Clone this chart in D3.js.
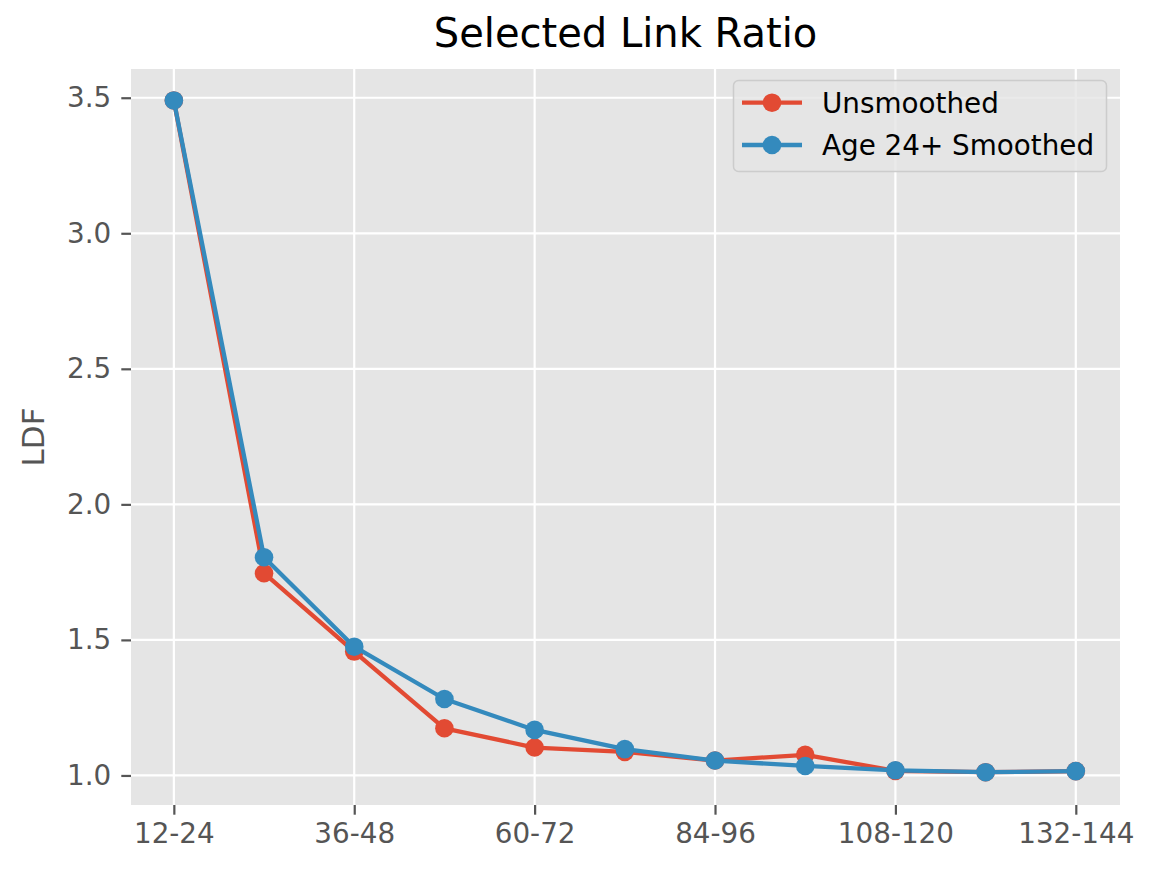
<!DOCTYPE html>
<html>
<head>
<meta charset="utf-8">
<script src="https://cdn.jsdelivr.net/npm/d3@7"></script>
<style>
  html, body { margin: 0; padding: 0; background: #fff; }
  svg { display: block; font-family: "DejaVu Sans", sans-serif; }
</style>
</head>
<body>
<svg id="chart" width="1154" height="873"></svg>
<script>
const categories = ["12-24","24-36","36-48","48-60","60-72","72-84","84-96","96-108","108-120","120-132","132-144"];
const unsmoothed = [3.49, 1.746, 1.457, 1.174, 1.103, 1.087, 1.055, 1.076, 1.017, 1.012, 1.016];
const smoothed   = [3.49, 1.805, 1.475, 1.282, 1.168, 1.097, 1.055, 1.035, 1.019, 1.012, 1.016];
const xTickLabels = ["12-24","36-48","60-72","84-96","108-120","132-144"];
const yTicks = [1.0, 1.5, 2.0, 2.5, 3.0, 3.5];
const seriesNames = ["Unsmoothed", "Age 24+ Smoothed"];
const colors = ["#E24A33", "#348ABD"];

const svg = d3.select("#chart");
const L = 131, R = 1120, T = 69, B = 805;

const x = d3.scaleLinear().domain([-0.475, categories.length - 0.51]).range([L, R]);
const y = d3.scaleLinear().domain([0.891, 3.606]).range([B, T]);

svg.append("rect").attr("x", L).attr("y", T).attr("width", R - L).attr("height", B - T).attr("fill", "#E5E5E5");

const xTickIdx = xTickLabels.map(l => categories.indexOf(l));

// grid
const grid = svg.append("g");
grid.selectAll("line.vx").data(xTickIdx).join("line")
  .attr("x1", d => x(d)).attr("x2", d => x(d)).attr("y1", T).attr("y2", B)
  .attr("stroke", "#fff").attr("stroke-width", 2.2);
grid.selectAll("line.hy").data(yTicks).join("line")
  .attr("x1", L).attr("x2", R).attr("y1", d => y(d)).attr("y2", d => y(d))
  .attr("stroke", "#fff").attr("stroke-width", 2.2);

// axes
const xAxis = d3.axisBottom(x).tickValues(xTickIdx).tickFormat(i => categories[i]).tickSize(9.7).tickPadding(9);
const gx = svg.append("g").attr("transform", `translate(0,${B})`).call(xAxis);
gx.select(".domain").remove();
gx.selectAll(".tick line").attr("stroke", "#555").attr("stroke-width", 2.2);
gx.selectAll(".tick text").attr("fill", "#555").attr("font-size", 27.8).attr("font-family", "DejaVu Sans");

const yAxis = d3.axisLeft(y).tickValues(yTicks).tickFormat(d3.format(".1f")).tickSize(9.7).tickPadding(10);
const gy = svg.append("g").attr("transform", `translate(${L},0)`).call(yAxis);
gy.select(".domain").remove();
gy.selectAll(".tick line").attr("stroke", "#555").attr("stroke-width", 2.2);
gy.selectAll(".tick text").attr("fill", "#555").attr("font-size", 27.8).attr("font-family", "DejaVu Sans");

// series
const data = [unsmoothed, smoothed];
const line = d3.line().x((d, i) => x(i)).y(d => y(d));
data.forEach((vals, k) => {
  const g = svg.append("g");
  g.append("path").datum(vals).attr("d", line).attr("fill", "none")
    .attr("stroke", colors[k]).attr("stroke-width", 4.3).attr("stroke-linejoin", "round").attr("stroke-linecap", "square");
  g.selectAll("circle").data(vals).join("circle")
    .attr("cx", (d, i) => x(i)).attr("cy", d => y(d)).attr("r", 9.3).attr("fill", colors[k]);
});

// title
svg.append("text").attr("x", (L + R) / 2).attr("y", 47).attr("text-anchor", "middle")
  .attr("font-size", 40).attr("fill", "#000").text("Selected Link Ratio");

// y label
svg.append("text").attr("transform", `translate(44,${(T + B) / 2}) rotate(-90)`)
  .attr("text-anchor", "middle").attr("font-size", 31).attr("fill", "#555").text("LDF");

// legend
const lg = svg.append("g");
lg.append("rect").attr("x", 733.5).attr("y", 80.5).attr("width", 373).attr("height", 91).attr("rx", 5)
  .attr("fill", "#E5E5E5").attr("fill-opacity", 0.8).attr("stroke", "#CCCCCC").attr("stroke-width", 1.5);
seriesNames.forEach((name, k) => {
  const yy = 102.7 + k * 42.3;
  lg.append("line").attr("x1", 742).attr("x2", 802).attr("y1", yy).attr("y2", yy)
    .attr("stroke", colors[k]).attr("stroke-width", 4.3);
  lg.append("circle").attr("cx", 772).attr("cy", yy).attr("r", 9.3).attr("fill", colors[k]);
  lg.append("text").attr("x", 822).attr("y", yy + 10).attr("font-size", 27.8).attr("fill", "#000").text(name);
});
</script>
</body>
</html>
